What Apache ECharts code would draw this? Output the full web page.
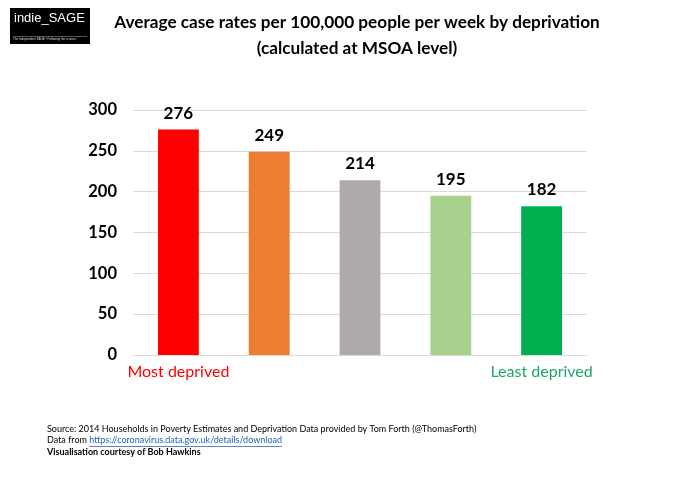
<!DOCTYPE html>
<html><head><meta charset="utf-8">
<script src="https://cdn.jsdelivr.net/npm/echarts@6/dist/echarts.min.js"></script>
<style>html,body{margin:0;padding:0;background:#fff}#c{width:680px;height:478px}</style>
</head><body><div id="c"></div>
<script>
const categories = ["Most deprived", "", "", "", "Least deprived"];
const caseRates = [276, 249, 214, 195, 182];
const barColors = ["#FF0000", "#ED7D31", "#AFA9A9", "#A9D18E", "#00B050"];
const labelColors = ["#FF0000", "#000", "#000", "#000", "#1AA86A"];
const yTicks = [0, 50, 100, 150, 200, 250, 300];
const titleLines = ["Average case rates per 100,000 people per week by deprivation", "(calculated at MSOA level)"];
const footerLines = [
  "Source: 2014 Households in Poverty Estimates and Deprivation Data provided by Tom Forth (@ThomasForth)",
  "Data from ",
  "Visualisation courtesy of Bob Hawkins"
];
const footerLink = "https://coronavirus.data.gov.uk/details/download";

const F = 'Lato, "Noto Sans", sans-serif';
const footFont = '9px Lato, sans-serif';
const ctx = document.createElement('canvas').getContext('2d');
ctx.font = footFont;
const prefixW = ctx.measureText(footerLines[1]).width;
const linkW = ctx.measureText(footerLink).width;

const chart = echarts.init(document.getElementById('c'), null, {renderer: 'canvas'});
chart.setOption({
  animation: false,
  backgroundColor: '#fff',
  title: {
    text: titleLines.join('\n'),
    left: 352, top: 4, textAlign: 'center',
    textStyle: {fontFamily: F, fontWeight: 'bold', fontSize: 17.2, lineHeight: 26, color: '#000'}
  },
  grid: {left: 133, right: 93, top: 110, bottom: 123, containLabel: false},
  xAxis: {
    type: 'category', data: categories,
    axisLine: {show: true, lineStyle: {color: '#D9D9D9', width: 1}},
    axisTick: {show: false},
    axisLabel: {
      interval: 0, margin: 9,
      fontFamily: F, fontSize: 16,
      color: (v, i) => labelColors[i]
    }
  },
  yAxis: {
    type: 'value', min: yTicks[0], max: yTicks[yTicks.length - 1], interval: 50,
    axisLine: {show: false}, axisTick: {show: false},
    splitLine: {lineStyle: {color: '#D9D9D9', width: 1}},
    axisLabel: {margin: 16, fontFamily: F, fontWeight: 'bold', fontSize: 16.5, color: '#000'}
  },
  series: [{
    type: 'bar', data: caseRates.map((v, i) => ({value: v, itemStyle: {color: barColors[i]}})),
    barWidth: '45%',
    label: {show: true, position: 'top', distance: 8, fontFamily: F, fontWeight: 'bold', fontSize: 17, color: '#000'}
  }],
  graphic: [
    {type: 'rect', left: 10, top: 8, shape: {width: 80, height: 36}, style: {fill: '#000'}},
    {type: 'text', left: 14, top: 12, style: {text: 'indie_SAGE', fill: '#fff', font: '13px "Liberation Sans", Arial, sans-serif'}},
    {type: 'rect', left: 13, top: 36, shape: {width: 74, height: 0.6}, style: {fill: '#aaa'}},
    {type: 'text', left: 13, top: 38, style: {text: 'The Independent SAGE • Following the science', fill: '#ddd', font: '3px sans-serif'}},
    {type: 'text', left: 47, top: 425, style: {text: footerLines[0], fill: '#000', font: footFont}},
    {type: 'text', left: 47, top: 436, style: {text: footerLines[1], fill: '#000', font: footFont}},
    {type: 'text', left: 47 + prefixW, top: 436, style: {text: footerLink, fill: '#1F5FBF', font: footFont}},
    {type: 'rect', left: 47 + prefixW, top: 446, shape: {width: linkW, height: 0.8}, style: {fill: '#1F5FBF'}},
    {type: 'text', left: 47, top: 448, style: {text: footerLines[2], fill: '#000', font: 'bold ' + footFont}}
  ]
});
</script></body></html>
